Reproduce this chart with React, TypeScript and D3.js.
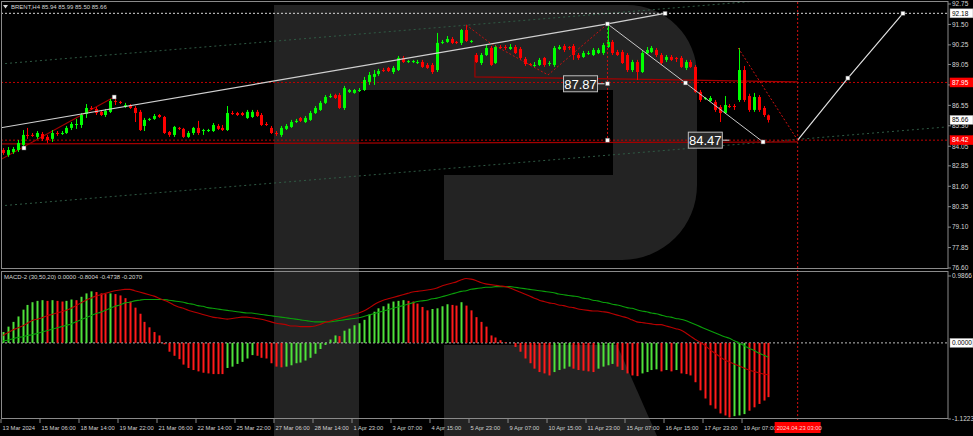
import React, { useEffect, useRef } from 'react';
import * as d3 from 'd3';

const W = 973;
const H = 436;

// BRENT H4 candles: [open, high, low, close]
const candles: [number, number, number, number][] = [
  [83.82, 83.94, 83.52, 83.64], [83.52, 84.0, 83.4, 83.82], [83.7, 84.0, 83.58, 83.88], [83.82, 84.43, 83.7, 84.25],
  [84.13, 85.04, 84.0, 84.74], [84.74, 85.17, 84.5, 84.68], [84.74, 84.86, 84.62, 84.68], [84.62, 84.98, 84.5, 84.86],
  [84.8, 84.92, 84.37, 84.5], [84.62, 84.74, 84.25, 84.43], [84.5, 85.04, 84.31, 84.86], [84.86, 84.98, 84.68, 84.8],
  [84.8, 84.98, 84.74, 84.86], [84.86, 85.29, 84.8, 85.17], [85.17, 85.53, 85.04, 85.41], [85.35, 85.72, 85.11, 85.41],
  [85.35, 86.08, 85.17, 85.96], [86.02, 86.63, 85.78, 86.39], [86.39, 86.51, 86.27, 86.33], [86.33, 86.45, 85.96, 86.08],
  [86.15, 86.27, 85.9, 85.96], [85.96, 86.33, 85.84, 86.21], [86.15, 86.94, 86.08, 86.82], [86.82, 87.06, 86.57, 86.76],
  [86.76, 86.82, 86.63, 86.7], [86.45, 86.7, 86.39, 86.57], [86.57, 86.63, 86.33, 86.39], [86.39, 86.51, 85.53, 86.08],
  [86.15, 86.27, 84.98, 85.04], [85.29, 85.78, 84.98, 85.66], [85.66, 85.78, 85.6, 85.72], [85.72, 86.02, 85.66, 85.9],
  [85.96, 86.02, 85.78, 85.84], [85.84, 85.9, 84.8, 84.86], [84.92, 84.98, 84.62, 84.74], [84.74, 85.29, 84.62, 85.23],
  [85.17, 85.23, 85.04, 85.11], [85.11, 85.17, 84.56, 84.62], [84.62, 84.98, 84.56, 84.86], [84.86, 85.23, 84.74, 85.17],
  [85.17, 85.6, 84.74, 84.86], [84.98, 85.11, 84.74, 85.04], [84.98, 85.11, 84.92, 85.04], [84.98, 85.47, 84.92, 85.35],
  [85.29, 85.41, 85.04, 85.11], [85.17, 85.35, 84.98, 85.04], [85.04, 86.51, 84.98, 86.08], [86.08, 86.21, 85.96, 86.02],
  [86.08, 86.15, 85.9, 85.96], [86.08, 86.15, 85.9, 85.96], [85.78, 86.27, 85.72, 86.15], [85.84, 86.27, 85.78, 86.15],
  [86.15, 86.27, 85.84, 85.9], [85.96, 86.08, 85.29, 85.35], [85.41, 85.53, 85.29, 85.35], [85.17, 85.29, 84.8, 84.86],
  [84.86, 84.98, 84.68, 84.8], [84.74, 85.29, 84.62, 85.17], [85.11, 85.41, 85.04, 85.29], [85.23, 85.66, 85.17, 85.53],
  [85.53, 85.72, 85.47, 85.6], [85.78, 85.84, 85.53, 85.6], [85.53, 85.9, 85.47, 85.78], [85.66, 86.21, 85.6, 86.08],
  [86.08, 86.51, 86.02, 86.39], [86.27, 86.82, 86.21, 86.7], [86.7, 87.18, 86.63, 87.06], [87.06, 87.26, 87.0, 87.12],
  [87.18, 87.26, 86.94, 87.0], [87.18, 87.31, 86.33, 86.39], [86.39, 87.74, 86.27, 87.61], [87.37, 87.55, 87.31, 87.49],
  [87.31, 87.55, 87.26, 87.49], [87.43, 87.61, 87.37, 87.49], [87.49, 88.29, 87.43, 88.1], [87.98, 88.59, 87.8, 88.41],
  [88.29, 88.71, 87.8, 88.47], [88.47, 88.78, 88.35, 88.65], [88.71, 88.84, 88.59, 88.65], [88.84, 88.9, 88.59, 88.65],
  [88.59, 88.96, 88.47, 88.84], [88.71, 89.57, 88.65, 89.45], [89.45, 89.57, 89.14, 89.2], [89.2, 89.33, 89.14, 89.26],
  [89.2, 89.33, 89.14, 89.26], [89.14, 89.33, 89.08, 89.2], [89.2, 89.33, 88.84, 88.9], [89.02, 89.14, 88.78, 88.84],
  [89.02, 89.14, 88.47, 88.59], [88.71, 90.98, 88.59, 90.37], [90.37, 90.55, 90.3, 90.43], [90.43, 90.79, 90.37, 90.61],
  [90.61, 90.73, 90.3, 90.37], [90.43, 90.49, 90.3, 90.37], [90.37, 91.22, 90.24, 91.16], [91.16, 91.47, 90.43, 90.49],
  [90.43, 90.55, 90.37, 90.49], [89.63, 89.75, 89.14, 89.2], [89.14, 89.75, 89.02, 89.63], [89.63, 90.24, 89.57, 90.06],
  [90.06, 90.18, 88.96, 89.02], [89.14, 90.24, 89.08, 90.12], [90.12, 90.24, 90.0, 90.06], [90.12, 90.24, 89.94, 90.06],
  [90.0, 90.3, 89.94, 90.12], [90.12, 90.24, 89.69, 89.75], [90.0, 90.12, 89.33, 89.45], [89.39, 89.51, 88.96, 89.08],
  [89.08, 89.14, 88.96, 89.02], [88.96, 89.2, 88.9, 89.02], [89.02, 89.45, 88.96, 89.33], [89.45, 89.51, 88.9, 89.02],
  [89.08, 89.26, 88.96, 89.14], [89.02, 90.18, 88.9, 90.06], [90.0, 90.24, 89.94, 90.12], [90.18, 90.3, 89.81, 89.94],
  [90.12, 90.18, 89.94, 90.06], [90.18, 90.3, 89.33, 89.63], [89.63, 89.75, 89.33, 89.45], [89.51, 89.88, 89.45, 89.75],
  [89.69, 89.88, 89.63, 89.75], [89.63, 90.06, 89.57, 89.94], [89.75, 90.06, 89.69, 89.94], [89.75, 90.37, 89.63, 90.24],
  [90.12, 91.53, 90.06, 90.43], [90.43, 90.55, 89.63, 89.75], [89.81, 89.94, 89.57, 89.63], [89.81, 89.94, 89.08, 89.14],
  [89.63, 89.75, 88.59, 88.71], [88.71, 89.33, 88.59, 89.2], [89.2, 89.33, 88.1, 88.59], [88.59, 89.88, 88.53, 89.75],
  [89.75, 90.12, 89.69, 89.94], [89.81, 90.18, 89.75, 90.06], [89.94, 90.06, 89.51, 89.63], [89.63, 89.75, 89.02, 89.14],
  [89.33, 89.63, 89.2, 89.51], [89.51, 89.63, 89.26, 89.33], [89.45, 89.51, 89.2, 89.39], [89.45, 89.57, 88.84, 88.9],
  [88.84, 89.33, 88.71, 89.2], [89.2, 89.33, 88.84, 88.9], [88.9, 89.02, 87.31, 87.37], [87.37, 87.49, 86.76, 86.88],
  [86.94, 87.06, 86.88, 87.0], [86.82, 87.12, 86.76, 87.0], [86.76, 86.88, 86.15, 86.27], [86.45, 86.57, 85.53, 86.08],
  [86.08, 87.12, 86.02, 86.57], [86.51, 86.63, 86.39, 86.45], [86.51, 86.63, 86.27, 86.45], [86.88, 90.06, 86.76, 88.71],
  [88.71, 88.96, 86.76, 86.88], [87.12, 87.26, 86.15, 86.27], [86.27, 87.31, 86.15, 87.06], [87.06, 87.18, 86.15, 86.27],
  [86.39, 86.51, 85.84, 85.96], [85.94, 85.99, 85.5, 85.66],
];

// MACD-2 (30,50,20) histogram, main (red) and signal (green) lines
const histogram: number[] = [
  0.16, 0.24, 0.31, 0.39, 0.49, 0.56, 0.6, 0.62, 0.63, 0.62, 0.63, 0.62, 0.61, 0.62, 0.64, 0.63,
  0.68, 0.73, 0.76, 0.75, 0.73, 0.72, 0.73, 0.72, 0.7, 0.66, 0.61, 0.52, 0.43, 0.31, 0.23, 0.16,
  0.11, -0.02, -0.13, -0.19, -0.24, -0.32, -0.37, -0.4, -0.42, -0.44, -0.45, -0.46, -0.46, -0.46,
  -0.37, -0.35, -0.31, -0.28, -0.23, -0.18, -0.19, -0.22, -0.23, -0.3, -0.35, -0.36, -0.35, -0.33,
  -0.3, -0.29, -0.26, -0.22, -0.16, -0.09, -0.03, 0.05, 0.11, 0.1, 0.18, 0.21, 0.26, 0.29, 0.34,
  0.42, 0.46, 0.51, 0.54, 0.58, 0.61, 0.62, 0.63, 0.62, 0.61, 0.58, 0.53, 0.48, 0.5, 0.51, 0.54,
  0.57, 0.56, 0.55, 0.6, 0.55, 0.48, 0.38, 0.31, 0.24, 0.11, 0.08, 0.04, 0.01, 0.0, -0.06, -0.13,
  -0.23, -0.3, -0.38, -0.43, -0.45, -0.48, -0.43, -0.4, -0.38, -0.35, -0.38, -0.4, -0.41, -0.42,
  -0.43, -0.38, -0.35, -0.33, -0.31, -0.35, -0.4, -0.45, -0.48, -0.49, -0.45, -0.43, -0.4, -0.39,
  -0.42, -0.4, -0.42, -0.4, -0.45, -0.46, -0.48, -0.58, -0.7, -0.82, -0.92, -0.97, -1.04, -1.07,
  -1.1, -1.08, -1.07, -1.05, -1.0, -0.95, -0.9, -0.85, -0.8,
];
// colour of the last histogram bars (from bar 149), which the indicator paints by its own rule
const histogramTailUp = [false, true, true, true, false, false, false, false, false];
const histogramTailStart = 149;

const macdLine: number[] = [
  0.11, 0.15, 0.19, 0.22, 0.25, 0.29, 0.33, 0.35, 0.37, 0.4, 0.42, 0.44, 0.46, 0.48, 0.51, 0.55,
  0.59, 0.63, 0.66, 0.69, 0.71, 0.73, 0.75, 0.77, 0.78, 0.79, 0.79, 0.77, 0.75, 0.73, 0.71, 0.69,
  0.66, 0.63, 0.6, 0.56, 0.53, 0.51, 0.48, 0.46, 0.44, 0.42, 0.4, 0.38, 0.37, 0.36, 0.35, 0.36,
  0.37, 0.38, 0.38, 0.37, 0.36, 0.35, 0.33, 0.31, 0.29, 0.28, 0.27, 0.25, 0.25, 0.24, 0.24, 0.24,
  0.25, 0.27, 0.3, 0.32, 0.34, 0.36, 0.38, 0.4, 0.42, 0.44, 0.47, 0.51, 0.56, 0.6, 0.63, 0.65,
  0.67, 0.69, 0.71, 0.73, 0.75, 0.76, 0.77, 0.78, 0.79, 0.81, 0.84, 0.86, 0.88, 0.9, 0.93, 0.95,
  0.94, 0.92, 0.89, 0.87, 0.86, 0.85, 0.84, 0.83, 0.81, 0.78, 0.75, 0.72, 0.69, 0.66, 0.63, 0.61,
  0.59, 0.58, 0.56, 0.55, 0.53, 0.52, 0.5, 0.49, 0.48, 0.47, 0.47, 0.46, 0.45, 0.43, 0.41, 0.39,
  0.37, 0.34, 0.31, 0.3, 0.29, 0.28, 0.27, 0.27, 0.25, 0.23, 0.21, 0.19, 0.15, 0.1, 0.05, 0.01,
  -0.04, -0.1, -0.15, -0.2, -0.25, -0.28, -0.31, -0.34, -0.37, -0.4, -0.42, -0.44, -0.46, -0.47,
];
const signalLine: number[] = [
  0.03, 0.04, 0.06, 0.08, 0.09, 0.11, 0.12, 0.14, 0.16, 0.18, 0.2, 0.22, 0.24, 0.26, 0.28, 0.31,
  0.34, 0.37, 0.4, 0.43, 0.45, 0.48, 0.51, 0.54, 0.56, 0.59, 0.6, 0.62, 0.63, 0.64, 0.64, 0.64,
  0.64, 0.64, 0.63, 0.62, 0.61, 0.6, 0.58, 0.57, 0.55, 0.54, 0.52, 0.51, 0.5, 0.49, 0.48, 0.47,
  0.46, 0.45, 0.44, 0.44, 0.43, 0.42, 0.41, 0.4, 0.39, 0.38, 0.37, 0.36, 0.35, 0.34, 0.33, 0.32,
  0.31, 0.31, 0.31, 0.31, 0.32, 0.33, 0.34, 0.35, 0.36, 0.37, 0.39, 0.41, 0.43, 0.45, 0.47, 0.49,
  0.51, 0.53, 0.55, 0.57, 0.59, 0.61, 0.62, 0.63, 0.65, 0.66, 0.68, 0.7, 0.72, 0.74, 0.76, 0.77,
  0.79, 0.8, 0.81, 0.82, 0.82, 0.83, 0.83, 0.83, 0.83, 0.82, 0.81, 0.8, 0.79, 0.78, 0.77, 0.76,
  0.75, 0.74, 0.72, 0.71, 0.7, 0.69, 0.68, 0.66, 0.65, 0.63, 0.62, 0.6, 0.59, 0.57, 0.56, 0.54,
  0.52, 0.51, 0.49, 0.47, 0.46, 0.44, 0.43, 0.41, 0.39, 0.38, 0.36, 0.35, 0.33, 0.3, 0.27, 0.24,
  0.21, 0.18, 0.15, 0.12, 0.09, 0.07, 0.03, 0.0, -0.04, -0.08, -0.11, -0.15, -0.18, -0.21,
];

const priceTicks = [92.75, 91.5, 90.25, 89.05, 87.8, 86.55, 85.3, 84.05, 82.85, 81.6, 80.35, 79.1, 77.85, 76.6];
const macdTicks = [0.9866, -1.1223];
const timeLabels = [
  '13 Mar 2024', '15 Mar 06:00', '18 Mar 14:00', '19 Mar 22:00', '21 Mar 06:00', '22 Mar 14:00',
  '25 Mar 22:00', '27 Mar 06:00', '28 Mar 14:00', '1 Apr 23:00', '3 Apr 07:00', '4 Apr 15:00',
  '5 Apr 23:00', '9 Apr 07:00', '10 Apr 15:00', '11 Apr 23:00', '15 Apr 07:00', '16 Apr 15:00',
  '17 Apr 23:00', '19 Apr 07:00',
];
const barsPerLabel = 8;
const futureBar = 163;
const futureLabel = '2024.04.23 03:00';

// analysis drawn on the chart, as [bar index, price]
const upperTrend: [number, number][] = [[-0.6, 85.17], [124, 91.53], [135.8, 92.18]];
const declineLine: [number, number][] = [[124, 91.53], [140, 87.92], [155.9, 84.31]];
const forecastPath: [number, number][] = [[163, 84.42], [173.3, 88.22], [184.6, 92.18]];
const forecastDrop: [number, number][] = [[150.8, 90.06], [163, 84.42]];
const zigzag: [number, number][] = [[95, 91.47], [99.9, 90.37], [111.8, 88.41], [124, 91.53]];
const leftRise: [number, number][] = [[-0.6, 83.21], [22.8, 87.06]];
const rangeTop: [number, number][] = [[96.8, 89.63], [96.8, 88.29], [128.6, 88.16], [163, 87.98]];
const rangeBottom: [number, number][] = [[-0.6, 84.19], [163, 84.31]];
const channelHigh: [number, number][] = [[-0.6, 89.08], [193.6, 93.9]];
const channelLow: [number, number][] = [[-0.6, 80.4], [193.6, 85.23]];
const markers: [number, number][] = [
  [4.3, 83.94], [22.8, 87.06], [124, 91.53], [135.8, 92.18], [124, 87.87], [124, 84.42],
  [140, 87.92], [155.9, 84.31], [173.3, 88.22], [184.6, 92.18],
];
const resistance = 87.95;
const support = 84.42;
const target = 92.18;
const lastClose = 85.66;
const callouts = [
  { bar: 124, price: 87.87, text: '87.87' },
  { bar: 149.6, price: 84.42, text: '84.47' },
];

const FONT = "'Liberation Sans', Arial, sans-serif";
const GREEN = '#00ff00';
const RED = '#ff0000';

const App: React.FC = () => {
  const ref = useRef<SVGSVGElement | null>(null);

  useEffect(() => {
    const el = ref.current;
    if (!el) return;
    const svg = d3.select(el);
    svg.selectAll('*').remove();

    const x = d3.scaleLinear().domain([0, 157]).range([3, 768.4]);
    const y = d3.scaleLinear().domain([76.6, 92.75]).range([268, 4]);
    const my = d3.scaleLinear().domain([-1.1223, 0.9866]).range([419, 276]);
    const axisX = 948;

    svg.append('rect').attr('width', W).attr('height', H).attr('fill', '#000');

    // watermark logo
    const wm = svg.append('g').attr('fill', '#232323');
    wm.append('rect').attr('x', 274).attr('y', 5).attr('width', 85).attr('height', H - 5);
    wm.append('path').attr(
      'd',
      'M359,5 H627 A70,70 0 0 1 697,75 V185 A75,75 0 0 1 622,260 H444 V175 H613 V90 H359 Z'
    );
    wm.append('path').attr('d', 'M444,345 H617 L657,436 H444 Z');

    const defs = svg.append('defs');
    defs.append('clipPath').attr('id', 'mainClip')
      .append('rect').attr('x', 1).attr('y', 2).attr('width', axisX - 1).attr('height', 266);
    defs.append('clipPath').attr('id', 'macdClip')
      .append('rect').attr('x', 1).attr('y', 272).attr('width', axisX - 1).attr('height', 146);

    const main = svg.append('g').attr('clip-path', 'url(#mainClip)');
    const line = d3.line<[number, number]>().x((d) => x(d[0])).y((d) => y(d[1]));

    // dim channel lines
    [channelHigh, channelLow].forEach((pts) => {
      main.append('path').attr('d', line(pts)).attr('fill', 'none')
        .attr('stroke', '#2f5a44').attr('stroke-width', 1).attr('stroke-dasharray', '2,3');
    });

    // horizontal levels
    const hLevel = (p: number, color: string) =>
      main.append('line').attr('x1', 1).attr('x2', axisX).attr('y1', y(p)).attr('y2', y(p))
        .attr('stroke', color).attr('stroke-width', 1).attr('stroke-dasharray', '2,2');
    hLevel(target, '#d8d8d8');
    hLevel(resistance, '#c00000');
    hLevel(support, '#c00000');

    // solid red range lines
    [rangeTop, rangeBottom, leftRise].forEach((pts) => {
      main.append('path').attr('d', line(pts)).attr('fill', 'none')
        .attr('stroke', '#a30000').attr('stroke-width', 1.2);
    });

    // candles
    const cg = main.append('g');
    candles.forEach(([o, h, l, c], i) => {
      const col = c >= o ? GREEN : RED;
      const cx = Math.round(x(i)) + 0.5;
      cg.append('line').attr('x1', cx).attr('x2', cx).attr('y1', y(h)).attr('y2', y(l))
        .attr('stroke', col).attr('stroke-width', 1);
      const top = y(Math.max(o, c));
      const hgt = Math.max(1, Math.abs(y(o) - y(c)));
      cg.append('rect').attr('x', cx - 1.5).attr('y', top).attr('width', 3).attr('height', hgt)
        .attr('fill', col);
    });

    // red dotted zigzag, drop and vertical lines
    main.append('path').attr('d', line(zigzag)).attr('fill', 'none')
      .attr('stroke', '#c81010').attr('stroke-width', 1).attr('stroke-dasharray', '2,2');
    main.append('path').attr('d', line(forecastDrop)).attr('fill', 'none')
      .attr('stroke', '#d01010').attr('stroke-width', 1).attr('stroke-dasharray', '2,2');
    main.append('line').attr('x1', x(124)).attr('x2', x(124)).attr('y1', y(91.53)).attr('y2', y(support))
      .attr('stroke', '#d01010').attr('stroke-dasharray', '2,2');
    main.append('line').attr('x1', x(124)).attr('x2', x(124)).attr('y1', y(91.53)).attr('y2', y(90.5))
      .attr('stroke', '#20c020').attr('stroke-dasharray', '2,2');

    // white trend lines
    main.append('path').attr('d', line(upperTrend)).attr('fill', 'none')
      .attr('stroke', '#d0d0d0').attr('stroke-width', 1.2);
    main.append('path').attr('d', line(declineLine)).attr('fill', 'none')
      .attr('stroke', '#c8c8c8').attr('stroke-width', 1);
    main.append('path').attr('d', line(forecastPath)).attr('fill', 'none')
      .attr('stroke', '#e0e0e0').attr('stroke-width', 1.2);

    markers.forEach(([b, p]) => {
      main.append('rect').attr('x', x(b) - 2).attr('y', y(p) - 2).attr('width', 4).attr('height', 4)
        .attr('fill', '#fff').attr('stroke', '#555').attr('stroke-width', 0.5);
    });

    // callout labels
    callouts.forEach((c) => {
      const ax = x(c.bar);
      const ay = y(c.price);
      main.append('line').attr('x1', ax - 10).attr('x2', ax - 3).attr('y1', ay).attr('y2', ay)
        .attr('stroke', '#ddd').attr('stroke-width', 1);
      main.append('rect').attr('x', ax - 44).attr('y', ay - 8).attr('width', 34).attr('height', 16)
        .attr('fill', '#2a2a2a').attr('stroke', '#bdbdbd').attr('stroke-width', 1);
      main.append('text').attr('x', ax - 27).attr('y', ay + 5).attr('text-anchor', 'middle')
        .attr('font-family', FONT).attr('font-size', 13).attr('fill', '#fff').text(c.text);
    });

    // MACD panel
    const macd = svg.append('g').attr('clip-path', 'url(#macdClip)');
    macd.append('line').attr('x1', 1).attr('x2', axisX).attr('y1', my(0)).attr('y2', my(0))
      .attr('stroke', '#bdbdbd').attr('stroke-dasharray', '2,2');
    histogram.forEach((v, i) => {
      const up = i >= histogramTailStart
        ? histogramTailUp[i - histogramTailStart]
        : i === 0 || v > histogram[i - 1];
      const cx = Math.round(x(i));
      macd.append('rect').attr('x', cx - 0.5).attr('width', 2)
        .attr('y', Math.min(my(0), my(v))).attr('height', Math.abs(my(v) - my(0)))
        .attr('fill', up ? '#4fe23a' : '#ff1a1a');
    });
    const mline = d3.line<number>().x((_, i) => x(i)).y((d) => my(d)).curve(d3.curveMonotoneX);
    macd.append('path').attr('d', mline(signalLine)).attr('fill', 'none')
      .attr('stroke', '#0aa00a').attr('stroke-width', 1.1);
    macd.append('path').attr('d', mline(macdLine)).attr('fill', 'none')
      .attr('stroke', '#b80000').attr('stroke-width', 1.1);

    // future time line
    svg.append('line').attr('x1', x(futureBar)).attr('x2', x(futureBar)).attr('y1', 2).attr('y2', 422)
      .attr('stroke', '#d01010').attr('stroke-dasharray', '2,2');

    // frames
    const frame = svg.append('g').attr('fill', 'none').attr('stroke', '#8a8a8a').attr('stroke-width', 1);
    frame.append('rect').attr('x', 1.5).attr('y', 1.5).attr('width', axisX - 1.5).attr('height', 267);
    frame.append('rect').attr('x', 1.5).attr('y', 271.5).attr('width', axisX - 1.5).attr('height', 147);

    const txt = (g: d3.Selection<SVGGElement, unknown, null, undefined>, tx: number, ty: number, s: string, fill = '#d6d6d6', size = 6) =>
      g.append('text').attr('x', tx).attr('y', ty).attr('font-family', FONT).attr('font-size', size)
        .attr('fill', fill).text(s);

    const labels = svg.append('g');

    // price axis
    priceTicks.forEach((p) => {
      labels.append('line').attr('x1', axisX).attr('x2', axisX + 3).attr('y1', y(p)).attr('y2', y(p))
        .attr('stroke', '#8a8a8a');
      txt(labels, axisX + 4, y(p) + 2.3, p.toFixed(2), '#d6d6d6', 6.5);
    });
    macdTicks.forEach((v) => {
      labels.append('line').attr('x1', axisX).attr('x2', axisX + 3).attr('y1', my(v)).attr('y2', my(v))
        .attr('stroke', '#8a8a8a');
      txt(labels, axisX + 4, my(v) + 2.3, v.toFixed(4), '#d6d6d6', 6.5);
    });

    const priceBox = (ty: number, s: string, bg: string, fg: string) => {
      labels.append('rect').attr('x', axisX + 2).attr('y', ty - 4.5).attr('width', 23).attr('height', 9)
        .attr('fill', bg).attr('stroke', bg === '#fff' ? '#999' : bg).attr('stroke-width', 0.5);
      txt(labels, axisX + 4, ty + 2.3, s, fg, 6.5);
    };
    priceBox(y(target), target.toFixed(2), '#fff', '#000');
    priceBox(y(resistance), resistance.toFixed(2), '#ff0000', '#fff');
    priceBox(y(lastClose), lastClose.toFixed(2), '#fff', '#000');
    priceBox(y(support), support.toFixed(2), '#ff0000', '#fff');
    priceBox(my(0), (0).toFixed(4), '#fff', '#000');

    // time axis
    timeLabels.forEach((s, k) => {
      const tx = x(k * barsPerLabel) - 2;
      labels.append('line').attr('x1', tx).attr('x2', tx).attr('y1', 419).attr('y2', 423)
        .attr('stroke', '#8a8a8a');
      txt(labels, tx + 1.5, 430, s, '#d0d0d0', 5.8);
    });
    const fx = x(futureBar);
    labels.append('rect').attr('x', fx - 23).attr('y', 422).attr('width', 46).attr('height', 11)
      .attr('fill', '#ff0000');
    txt(labels, fx - 21, 430, futureLabel, '#ffd0d0', 5.8);

    // headers
    labels.append('path').attr('d', 'M3,5 L8,5 L5.5,8.5 Z').attr('fill', '#d6d6d6');
    txt(labels, 11, 8.5, 'BRENT,H4  85.94 85.99 85.50 85.66');
    txt(labels, 4, 279, 'MACD-2 (30,50,20) 0.0000 -0.8004 -0.4738 -0.2070');
  }, []);

  return (
    <div style={{ position: 'absolute', left: 0, top: 0, width: W, height: H }}>
      <svg ref={ref} width={W} height={H} style={{ display: 'block' }} />
    </div>
  );
};

export default App;
